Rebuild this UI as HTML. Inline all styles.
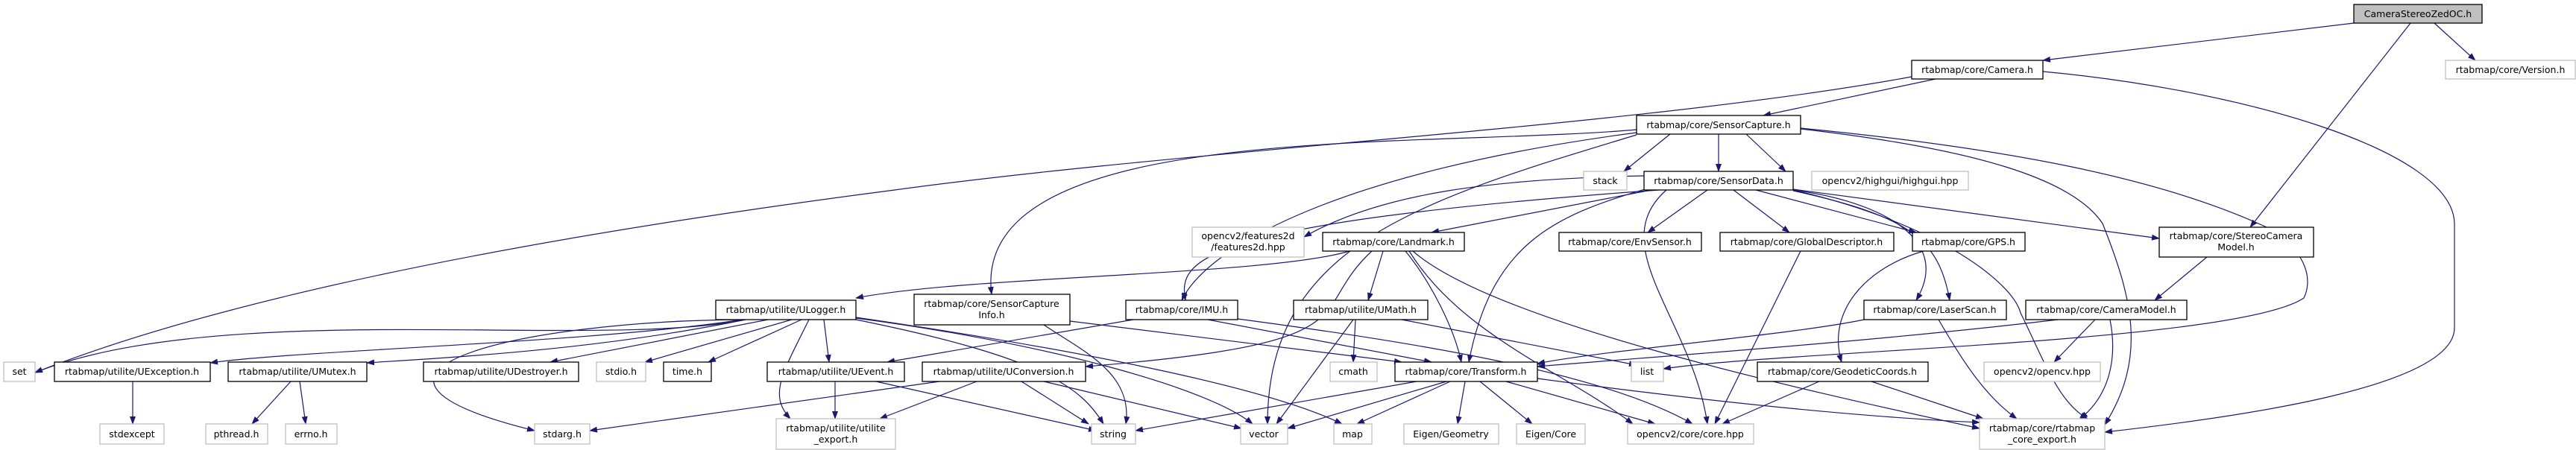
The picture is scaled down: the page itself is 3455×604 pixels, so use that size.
<!DOCTYPE html>
<html><head><meta charset="utf-8"><style>
html,body{margin:0;padding:0;background:#fff}
svg{display:block}
text{font-family:"DejaVu Sans","Liberation Sans",sans-serif;font-size:12.5px;fill:#000}
.n{fill:#fff;stroke:#000;stroke-width:1.3}
.g{fill:#fff;stroke:#bfbfbf;stroke-width:1.3}
.e{fill:none;stroke:#191970;stroke-width:1.2}
</style></head><body>
<svg width="3455" height="604" viewBox="0 0 3455 604" xmlns="http://www.w3.org/2000/svg">
<defs><marker id="a" markerWidth="11" markerHeight="8" refX="10" refY="4" orient="auto" markerUnits="userSpaceOnUse"><path d="M0,0 L11,4 L0,8 z" fill="#191970"/></marker></defs>
<g class="e" marker-end="url(#a)">
<path d="M3157,31 L2740,81"/>
<path d="M3265,31 L3320,81"/>
<path d="M3233,31 L3018,305"/>
<path d="M2596,106 L2365,155"/>
<path d="M2564,103 C2200,170 1600,200 1200,255 C700,320 300,400 47,500"/>
<path d="M2740,96 C3000,120 3290,200 3292,300 L3292,440 C3292,520 3000,560 2823,580"/>
<path d="M2240,180 L2178,230"/>
<path d="M2305,180 L2305,230"/>
<path d="M2342,180 L2395,230"/>
<path d="M2195,174 C1900,200 1300,160 1330,395"/>
<path d="M2195,178 C1800,230 1620,330 1585,403"/>
<path d="M2195,181 C1900,270 1700,330 1700,569"/>
<path d="M2415,172 C2700,200 2900,240 3040,305 C3100,340 3100,380 3090,400 C3000,460 2400,470 2231,495"/>
<path d="M2415,173 C2650,200 2780,240 2820,300 C2860,400 2880,480 2823,570"/>
<path d="M2205,236 C2000,240 1850,260 1749,318"/>
<path d="M2215,255 L1920,312"/>
<path d="M2290,255 L2210,312"/>
<path d="M2325,255 L2400,312"/>
<path d="M2355,255 L2570,312"/>
<path d="M2405,254 L2896,320"/>
<path d="M2405,255 C2520,270 2620,320 2570,403"/>
<path d="M2405,256 C2560,290 2600,320 2615,403"/>
<path d="M2210,253 C2080,290 2000,330 1970,486"/>
<path d="M2225,255 C1600,300 1580,350 1590,403"/>
<path d="M2235,255 C2150,330 2270,430 2290,569"/>
<path d="M2405,255 C2600,300 2700,380 2710,420 C2740,480 2760,540 2800,562"/>
<path d="M1810,337 C1700,370 1300,370 1148,400"/>
<path d="M1855,337 L1835,403"/>
<path d="M1885,337 C1920,380 1950,440 1960,486"/>
<path d="M1840,337 C1750,420 1850,460 1456,492"/>
<path d="M1890,337 C1960,450 2100,500 2190,569"/>
<path d="M1895,337 C2000,430 2400,520 2655,575"/>
<path d="M2960,345 L2890,403"/>
<path d="M2760,429 C2500,460 2200,480 2062,492"/>
<path d="M2810,429 L2755,486"/>
<path d="M2830,429 C2840,480 2830,530 2790,562"/>
<path d="M2500,429 C2400,450 2150,470 2062,488"/>
<path d="M2600,429 C2630,480 2660,530 2705,562"/>
<path d="M2580,337 C2500,360 2450,420 2470,486"/>
<path d="M2415,337 L2300,569"/>
<path d="M2440,512 L2310,569"/>
<path d="M2510,512 L2660,562"/>
<path d="M1520,429 L1190,486"/>
<path d="M1620,429 L1920,486"/>
<path d="M1660,428 C1900,460 2150,500 2270,569"/>
<path d="M1818,429 L1815,486"/>
<path d="M1815,429 L1712,569"/>
<path d="M1880,429 L2195,490"/>
<path d="M1435,431 L1880,486"/>
<path d="M1400,436 C1450,470 1520,500 1510,569"/>
<path d="M1000,429 C800,470 300,400 47,500"/>
<path d="M995,429 C800,460 400,470 282,487"/>
<path d="M1000,429 C800,470 600,480 492,487"/>
<path d="M1030,429 L738,486"/>
<path d="M1062,429 L865,486"/>
<path d="M1075,429 L950,486"/>
<path d="M1105,429 L1112,486"/>
<path d="M1085,429 C1050,500 1030,530 1060,562"/>
<path d="M1000,429 C700,430 400,500 717,578"/>
<path d="M1148,429 C1400,480 1450,520 1480,569"/>
<path d="M1148,427 C1400,460 1620,520 1680,569"/>
<path d="M1148,426 C1450,470 1700,520 1800,569"/>
<path d="M178,512 L178,569"/>
<path d="M390,512 L338,569"/>
<path d="M402,512 L410,569"/>
<path d="M1120,512 L1120,562"/>
<path d="M1175,512 L1470,578"/>
<path d="M1260,512 L791,578"/>
<path d="M1310,512 L1180,562"/>
<path d="M1370,512 L1460,569"/>
<path d="M1400,512 L1665,575"/>
<path d="M1900,512 L1523,578"/>
<path d="M1940,512 L1727,575"/>
<path d="M1945,512 L1820,569"/>
<path d="M1965,512 L1955,569"/>
<path d="M1985,512 L2055,569"/>
<path d="M2020,512 L2220,569"/>
<path d="M2062,508 C2300,540 2500,560 2655,567"/>
</g>
<g>
<rect class="n" x="3157" y="6" width="172" height="25" style="fill:#bfbfbf"/><text x="3243" y="23" text-anchor="middle">CameraStereoZedOC.h</text>
<rect class="n" x="2564" y="81" width="176" height="25"/><text x="2652" y="98" text-anchor="middle">rtabmap/core/Camera.h</text>
<rect class="g" x="3280" y="81" width="174" height="25"/><text x="3367" y="98" text-anchor="middle">rtabmap/core/Version.h</text>
<rect class="n" x="2195" y="155" width="220" height="25"/><text x="2305" y="172" text-anchor="middle">rtabmap/core/SensorCapture.h</text>
<rect class="g" x="2124" y="230" width="58" height="25"/><text x="2153" y="247" text-anchor="middle">stack</text>
<rect class="n" x="2205" y="230" width="200" height="25"/><text x="2305" y="247" text-anchor="middle">rtabmap/core/SensorData.h</text>
<rect class="g" x="2430" y="230" width="210" height="25"/><text x="2535" y="247" text-anchor="middle">opencv2/highgui/highgui.hpp</text>
<rect class="g" x="1599" y="305" width="150" height="40"/><text x="1674" y="321" text-anchor="middle">opencv2/features2d</text><text x="1674" y="336" text-anchor="middle">/features2d.hpp</text>
<rect class="n" x="1774" y="312" width="190" height="25"/><text x="1869" y="329" text-anchor="middle">rtabmap/core/Landmark.h</text>
<rect class="n" x="2091" y="312" width="191" height="25"/><text x="2186" y="329" text-anchor="middle">rtabmap/core/EnvSensor.h</text>
<rect class="n" x="2307" y="312" width="233" height="25"/><text x="2423" y="329" text-anchor="middle">rtabmap/core/GlobalDescriptor.h</text>
<rect class="n" x="2565" y="312" width="151" height="25"/><text x="2640" y="329" text-anchor="middle">rtabmap/core/GPS.h</text>
<rect class="n" x="2896" y="305" width="207" height="40"/><text x="2999" y="321" text-anchor="middle">rtabmap/core/StereoCamera</text><text x="2999" y="336" text-anchor="middle">Model.h</text>
<rect class="n" x="960" y="403" width="188" height="26"/><text x="1054" y="420" text-anchor="middle">rtabmap/utilite/ULogger.h</text>
<rect class="n" x="1226" y="395" width="209" height="41"/><text x="1330" y="412" text-anchor="middle">rtabmap/core/SensorCapture</text><text x="1330" y="427" text-anchor="middle">Info.h</text>
<rect class="n" x="1510" y="403" width="150" height="26"/><text x="1585" y="420" text-anchor="middle">rtabmap/core/IMU.h</text>
<rect class="n" x="1735" y="403" width="180" height="26"/><text x="1825" y="420" text-anchor="middle">rtabmap/utilite/UMath.h</text>
<rect class="n" x="2500" y="403" width="191" height="26"/><text x="2595" y="420" text-anchor="middle">rtabmap/core/LaserScan.h</text>
<rect class="n" x="2717" y="403" width="216" height="26"/><text x="2825" y="420" text-anchor="middle">rtabmap/core/CameraModel.h</text>
<rect class="g" x="5" y="486" width="42" height="26"/><text x="26" y="503" text-anchor="middle">set</text>
<rect class="n" x="73" y="486" width="209" height="26"/><text x="177" y="503" text-anchor="middle">rtabmap/utilite/UException.h</text>
<rect class="n" x="306" y="486" width="186" height="26"/><text x="399" y="503" text-anchor="middle">rtabmap/utilite/UMutex.h</text>
<rect class="n" x="568" y="486" width="208" height="26"/><text x="672" y="503" text-anchor="middle">rtabmap/utilite/UDestroyer.h</text>
<rect class="g" x="800" y="486" width="66" height="26"/><text x="833" y="503" text-anchor="middle">stdio.h</text>
<rect class="n" x="890" y="486" width="64" height="26"/><text x="922" y="503" text-anchor="middle">time.h</text>
<rect class="n" x="1029" y="486" width="184" height="26"/><text x="1121" y="503" text-anchor="middle">rtabmap/utilite/UEvent.h</text>
<rect class="n" x="1237" y="486" width="219" height="26"/><text x="1346" y="503" text-anchor="middle">rtabmap/utilite/UConversion.h</text>
<rect class="g" x="1784" y="486" width="63" height="26"/><text x="1815" y="503" text-anchor="middle">cmath</text>
<rect class="n" x="1871" y="486" width="191" height="26"/><text x="1966" y="503" text-anchor="middle">rtabmap/core/Transform.h</text>
<rect class="g" x="2188" y="486" width="43" height="26"/><text x="2209" y="503" text-anchor="middle">list</text>
<rect class="n" x="2357" y="486" width="229" height="26"/><text x="2471" y="503" text-anchor="middle">rtabmap/core/GeodeticCoords.h</text>
<rect class="g" x="2661" y="486" width="156" height="26"/><text x="2739" y="503" text-anchor="middle">opencv2/opencv.hpp</text>
<rect class="g" x="134" y="569" width="86" height="27"/><text x="177" y="587" text-anchor="middle">stdexcept</text>
<rect class="g" x="276" y="569" width="83" height="27"/><text x="317" y="587" text-anchor="middle">pthread.h</text>
<rect class="g" x="383" y="569" width="69" height="27"/><text x="417" y="587" text-anchor="middle">errno.h</text>
<rect class="g" x="717" y="569" width="74" height="27"/><text x="754" y="587" text-anchor="middle">stdarg.h</text>
<rect class="g" x="1041" y="562" width="160" height="41"/><text x="1121" y="579" text-anchor="middle">rtabmap/utilite/utilite</text><text x="1121" y="594" text-anchor="middle">_export.h</text>
<rect class="g" x="1464" y="569" width="59" height="27"/><text x="1493" y="587" text-anchor="middle">string</text>
<rect class="g" x="1664" y="569" width="63" height="27"/><text x="1695" y="587" text-anchor="middle">vector</text>
<rect class="g" x="1789" y="569" width="51" height="27"/><text x="1814" y="587" text-anchor="middle">map</text>
<rect class="g" x="1883" y="569" width="127" height="27"/><text x="1946" y="587" text-anchor="middle">Eigen/Geometry</text>
<rect class="g" x="2034" y="569" width="92" height="27"/><text x="2080" y="587" text-anchor="middle">Eigen/Core</text>
<rect class="g" x="2183" y="569" width="169" height="27"/><text x="2267" y="587" text-anchor="middle">opencv2/core/core.hpp</text>
<rect class="g" x="2655" y="562" width="168" height="41"/><text x="2739" y="579" text-anchor="middle">rtabmap/core/rtabmap</text><text x="2739" y="594" text-anchor="middle">_core_export.h</text>
</g>
</svg>
</body></html>
